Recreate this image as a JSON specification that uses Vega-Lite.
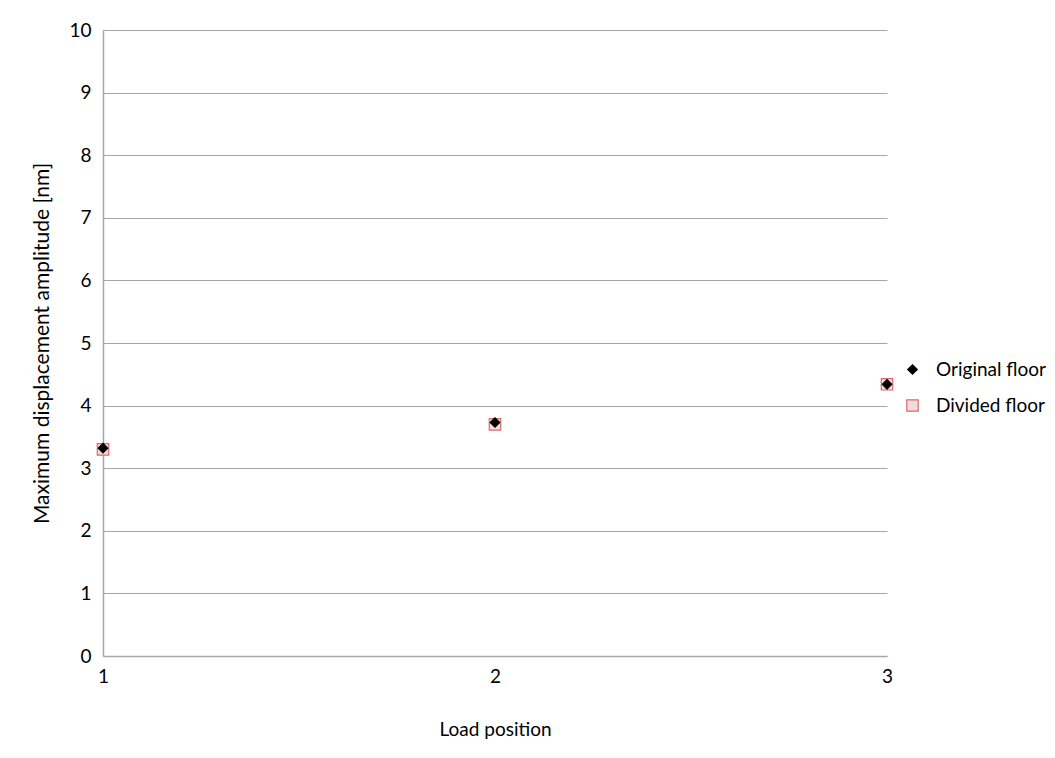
{
  "$schema": "https://vega.github.io/schema/vega-lite/v6.json",
  "width": 784,
  "height": 626,
  "autosize": {"type": "none"},
  "padding": {"left": 103, "top": 30, "right": 168, "bottom": 102},
  "background": "white",
  "config": {
    "view": {"stroke": null},
    "font": "Lato"
  },
  "data": {
    "values": [
      {"position": 1, "series": "Divided floor", "value": 3.30},
      {"position": 2, "series": "Divided floor", "value": 3.70},
      {"position": 3, "series": "Divided floor", "value": 4.34},
      {"position": 1, "series": "Original floor", "value": 3.32},
      {"position": 2, "series": "Original floor", "value": 3.73},
      {"position": 3, "series": "Original floor", "value": 4.34}
    ]
  },
  "mark": {"type": "point", "filled": true, "opacity": 1, "strokeWidth": 1.2},
  "encoding": {
    "x": {
      "field": "position", "type": "quantitative",
      "scale": {"domain": [1, 3], "nice": false, "zero": false},
      "axis": {"title": "Load position", "values": [1, 2, 3], "format": ".0f", "grid": false, "ticks": false, "labelOverlap": false, "domainColor": "#a6a6a6", "domainWidth": 1.5, "labelPadding": 11, "titlePadding": 34, "labelFlush": false, "labelFont": "Lato", "labelFontSize": 19, "labelColor": "black", "titleFont": "Lato", "titleFontSize": 19, "titleFontWeight": "normal", "titleColor": "black"}
    },
    "y": {
      "field": "value", "type": "quantitative",
      "scale": {"domain": [0, 10], "nice": false},
      "axis": {"title": "Maximum displacement amplitude [nm]", "values": [0,1,2,3,4,5,6,7,8,9,10], "grid": true, "gridColor": "#a6a6a6", "gridWidth": 1.2, "ticks": false, "labelOverlap": false, "domainColor": "#a6a6a6", "domainWidth": 1.5, "labelPadding": 12, "titlePadding": 16, "labelFont": "Lato", "labelFontSize": 19, "labelColor": "black", "titleFont": "Lato", "titleFontSize": 21, "titleFontWeight": "normal", "titleColor": "black"}
    },
    "shape": {
      "field": "series", "type": "nominal",
      "scale": {"domain": ["Original floor", "Divided floor"], "range": ["diamond", "square"]},
      "legend": {"title": null, "orient": "none", "legendX": 800, "legendY": 330, "labelFont": "Lato", "labelFontSize": 19, "labelColor": "black", "labelOffset": 14, "rowPadding": 16, "symbolStrokeWidth": 1.2}
    },
    "fill": {
      "field": "series", "type": "nominal",
      "scale": {"domain": ["Original floor", "Divided floor"], "range": ["black", "#f2dcdb"]},
      "legend": {"title": null, "orient": "none", "legendX": 800, "legendY": 330, "labelFont": "Lato", "labelFontSize": 19, "labelColor": "black", "labelOffset": 14, "rowPadding": 16, "symbolStrokeWidth": 1.2}
    },
    "stroke": {
      "field": "series", "type": "nominal",
      "scale": {"domain": ["Original floor", "Divided floor"], "range": ["black", "#d9696b"]},
      "legend": {"title": null, "orient": "none", "legendX": 800, "legendY": 330, "labelFont": "Lato", "labelFontSize": 19, "labelColor": "black", "labelOffset": 14, "rowPadding": 16, "symbolStrokeWidth": 1.2}
    },
    "size": {
      "field": "series", "type": "nominal",
      "scale": {"domain": ["Original floor", "Divided floor"], "range": [90, 130]},
      "legend": {"title": null, "orient": "none", "legendX": 800, "legendY": 330, "labelFont": "Lato", "labelFontSize": 19, "labelColor": "black", "labelOffset": 14, "rowPadding": 16, "symbolStrokeWidth": 1.2}
    },
    "order": {"field": "series", "sort": "ascending"}
  }
}
